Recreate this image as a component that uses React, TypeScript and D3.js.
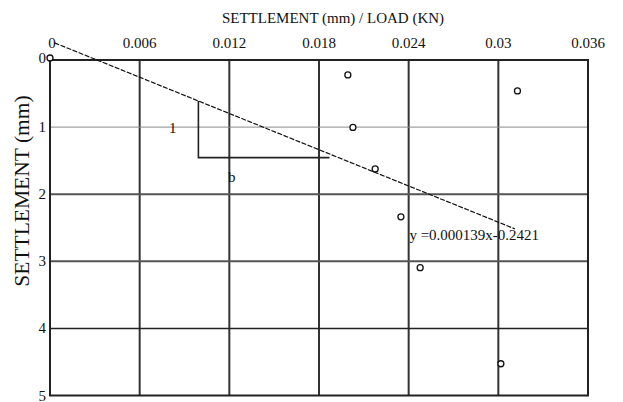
import React from "react";
import * as d3 from "d3";

// Tick values and labels
const xTicks = [0, 0.006, 0.012, 0.018, 0.024, 0.03, 0.036];
const xTickLabels = ["0", "0.006", "0.012", "0.018", "0.024", "0.03", "0.036"];
const yTicks = [0, 1, 2, 3, 4, 5];
const yTickLabels = ["0", "1", "2", "3", "4", "5"];

// Observed points: settlement / load vs settlement
const settlementPerLoad = [0, 0.01993, 0.03128, 0.02027, 0.02176, 0.02348, 0.02477, 0.03017];
const settlement = [0, 0.223, 0.461, 1.005, 1.624, 2.337, 3.095, 4.527];

// Fitted trend line endpoints
const fitX = [0.0003, 0.0311];
const fitY = [-0.256, 2.516];

// Slope triangle
const triX = [0.00993, 0.00993, 0.0187];
const triY = [0.61, 1.455, 1.455];

const equationText = "y =0.000139x-0.2421";
const equationPos = { x: 0.02405, y: 1.75 };
const riseLabel = { x: 0.00821, y: 1.01, text: "1" };
const runLabel = { x: 0.01217, y: 1.75, text: "b" };

const W = 623;
const H = 402;
const left = 50;
const right = 588;
const top = 60;
const bottom = 395.5;
const font = "'Liberation Serif', 'Times New Roman', serif";

// Horizontal grid styling per settlement value
const hGridStyle: Record<number, { w: number; c: string }> = {
  1: { w: 1, c: "#8a8a8a" },
  2: { w: 2, c: "#555" },
  3: { w: 2, c: "#555" },
  4: { w: 1.5, c: "#222" },
};

export default function App() {
  const x = d3.scaleLinear().domain([0, 0.036]).range([left, right]);
  const y = d3.scaleLinear().domain([0, 5]).range([top, bottom]);

  const line = d3
    .line<number>()
    .x((_, i) => x(fitX[i]))
    .y((d) => y(d));

  const tri = d3
    .line<number>()
    .x((_, i) => x(triX[i]))
    .y((d) => y(d));

  return (
    <svg
      width={W}
      height={H}
      style={{ position: "absolute", left: 0, top: 0, background: "#fff" }}
      fontFamily={font}
    >
      <rect x={0} y={0} width={W} height={H} fill="#fff" />

      {/* vertical grid */}
      {xTicks.slice(1, -1).map((t) => (
        <line key={"vx" + t} x1={x(t)} x2={x(t)} y1={top} y2={bottom} stroke="#333" strokeWidth={2} />
      ))}
      {/* horizontal grid */}
      {yTicks.slice(1, -1).map((t) => (
        <line
          key={"hy" + t}
          x1={left}
          x2={right}
          y1={y(t)}
          y2={y(t)}
          stroke={hGridStyle[t].c}
          strokeWidth={hGridStyle[t].w}
        />
      ))}
      {/* frame */}
      <rect x={left} y={top} width={right - left} height={bottom - top} fill="none" stroke="#222" strokeWidth={2} />

      {/* x tick labels */}
      {xTicks.map((t, i) => (
        <text key={"xl" + t} x={x(t) + (i === 0 ? 2 : 0)} y={48} fontSize={15} textAnchor="middle" fill="#111">
          {xTickLabels[i]}
        </text>
      ))}
      {/* y tick labels */}
      {yTicks.map((t, i) => (
        <text
          key={"yl" + t}
          x={46}
          y={y(t) + (i === 0 ? -2 : 0)}
          fontSize={15}
          textAnchor="end"
          dominantBaseline="central"
          fill="#111"
        >
          {yTickLabels[i]}
        </text>
      ))}

      {/* axis titles */}
      <text x={333} y={23} fontSize={15} textAnchor="middle" fill="#111">
        SETTLEMENT (mm) / LOAD (KN)
      </text>
      <text
        transform={`translate(22, 191) rotate(-90)`}
        fontSize={21.5}
        textAnchor="middle"
        dominantBaseline="central"
        fill="#111"
      >
        SETTLEMENT (mm)
      </text>

      {/* trend line */}
      <path d={line(fitY) || ""} fill="none" stroke="#111" strokeWidth={1.2} strokeDasharray="5 1.5" />

      {/* slope triangle */}
      <path d={tri(triY) || ""} fill="none" stroke="#222" strokeWidth={1.6} />
      <text x={x(riseLabel.x)} y={y(riseLabel.y)} fontSize={15} textAnchor="middle" dominantBaseline="central" fill="#111">
        {riseLabel.text}
      </text>
      <text x={x(runLabel.x)} y={y(runLabel.y)} fontSize={15} textAnchor="middle" dominantBaseline="central" fill="#111">
        {runLabel.text}
      </text>

      {/* observed points */}
      {settlementPerLoad.map((v, i) => (
        <circle
          key={"p" + i}
          cx={x(v)}
          cy={y(settlement[i]) - (i === 0 ? 2 : 0)}
          r={3}
          fill="#fff"
          stroke="#111"
          strokeWidth={1.3}
        />
      ))}

      {/* regression equation */}
      <text x={x(equationPos.x)} y={240} fontSize={15} fill="#111">
        {equationText}
      </text>
    </svg>
  );
}
